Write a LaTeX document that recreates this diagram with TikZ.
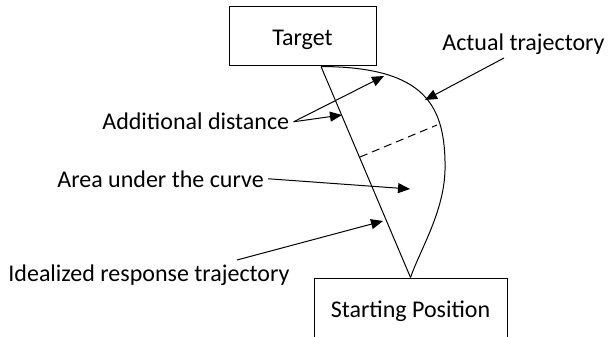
\documentclass[tikz,border=0pt]{standalone}
\usepackage{fontspec}
\setmainfont{Carlito}
\usepackage{tikz}
\usetikzlibrary{arrows.meta}
\tikzset{
  box/.style={draw, line width=0.5pt, inner sep=0pt, text height=9pt, text depth=0pt, font=\fontsize{12}{14}\selectfont},
  lbl/.style={inner sep=2pt, font=\fontsize{12}{14}\selectfont},
  traj/.style={line width=0.5pt},
  gap/.style={line width=0.5pt, dash pattern=on 4pt off 2.5pt},
  ptr/.style={-{Triangle[length=6pt,width=5pt]}, line width=0.5pt},
}

\begin{document}
\begin{tikzpicture}[x=0.5pt,y=-0.5pt]
  \clip (0,0) rectangle (608,336);
  \node[box, minimum width=73.5pt, minimum height=29.5pt] (tg) at (302.5,36.5) {Target};
  \node[box, minimum width=96.5pt, minimum height=30pt] (sp) at (410.5,308) {Starting Position};
  \node[lbl, anchor=base west] (actual) at (438,51) {Actual trajectory};
  \node[lbl, anchor=base west] (adddist) at (98,130) {Additional distance};
  \node[lbl, anchor=base west] (area) at (53,187) {Area under the curve};
  \node[lbl, anchor=base west] (ideal) at (4,281) {Idealized response trajectory};
  \coordinate (top) at (321,66.5);
  \coordinate (dl) at (360,157);
  \coordinate (dr) at (437,125);
  \coordinate (actfrom) at (504,58);
  \coordinate (idlfrom) at (237,260);
  \coordinate (tipact) at (425,100);
  \coordinate (tipout) at (384,76);
  \coordinate (tipin) at (342,115);
  \coordinate (tiparea) at (410,189);
  \coordinate (tipidl) at (383,221);
  \draw[traj] (top) -- (sp.north);
  \draw[traj] (top) .. controls (425,67) and (446,105) .. (445,170)
    .. controls (444,212) and (420,250) .. (sp.north);
  \draw[gap] (dl) -- (dr);
  \draw[ptr] (actfrom) -- (tipact);
  \draw[ptr] (adddist.east) -- (tipout);
  \draw[ptr] (adddist.east) -- (tipin);
  \draw[ptr] (area.east) -- (tiparea);
  \draw[ptr] (idlfrom) -- (tipidl);
\end{tikzpicture}
\end{document}
